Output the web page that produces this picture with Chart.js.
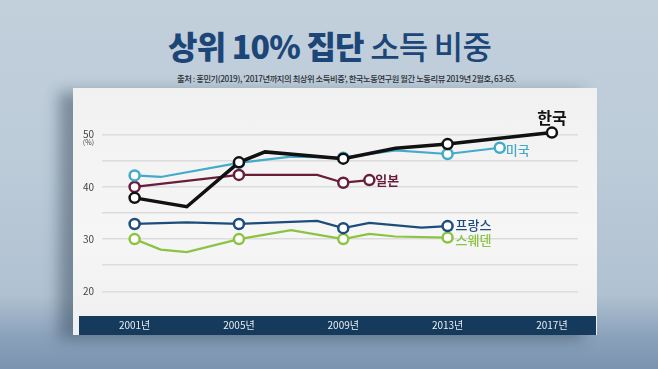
<!DOCTYPE html>
<html>
<head>
<meta charset="utf-8">
<script src="https://cdn.jsdelivr.net/npm/chart.js@4.4.0/dist/chart.umd.min.js"></script>
<style>
  html, body { margin: 0; padding: 0; }
  body {
    width: 658px; height: 369px; position: relative; overflow: hidden;
    background: linear-gradient(180deg, #c2d0dc 0%, #bccbd8 45%, #b0c1d1 80%, #8ba2bb 91%, #7a93b0 100%);
    font-family: "Noto Sans CJK KR", "Noto Sans", sans-serif;
  }
  #card {
    position: absolute; left: 73px; top: 88px; width: 524px; height: 247px;
    background: linear-gradient(180deg, #f1f1f1 0%, #f6f6f6 60%, #efefef 100%);
    box-shadow: -14px 4px 14px rgba(40, 60, 80, 0.45);
  }
  #bar {
    position: absolute; left: 79px; top: 316px; width: 517px; height: 19px;
    background: #163a5c;
  }
  #title {
    position: absolute; left: 168px; top: 25px; white-space: nowrap;
    color: #1c4677; font-size: 32px; letter-spacing: -0.8px; line-height: 40px;
  }
  #title b { font-weight: 900; }
  #title span { font-weight: 500; }
  #source {
    position: absolute; left: 177px; top: 72px; white-space: nowrap;
    color: #2a2f36; font-size: 8.3px; font-weight: 500; letter-spacing: -0.45px; line-height: 12px;
  }
  #chart { position: absolute; left: 0; top: 0; }
</style>
</head>
<body>
<div id="card"></div>
<div id="bar"></div>
<div id="title"><b>상위 10% 집단</b> <span>소득 비중</span></div>
<div id="source">출처 : 홍민기(2019), '2017년까지의 최상위 소득비중', 한국노동연구원 월간 노동리뷰 2019년 2월호, 63-65.</div>
<canvas id="chart" width="658" height="369"></canvas>
<script>
// x축에 표시되는 연도
const tickYears = [2001, 2005, 2009, 2013, 2017];

// 나라별 연도 / 값 (%)
const koreaYears = [2001, 2003, 2005, 2006, 2009, 2011, 2013, 2017];
const koreaValues = [37.9, 36.2, 44.7, 46.7, 45.4, 47.4, 48.2, 50.4];

const usaYears = [2001, 2002, 2005, 2007, 2009, 2011, 2013, 2015];
const usaValues = [42.2, 41.9, 44.6, 45.8, 45.6, 47.0, 46.3, 47.5];

const japanYears = [2001, 2005, 2008, 2009, 2010];
const japanValues = [40.0, 42.3, 42.3, 40.8, 41.3];

const franceYears = [2001, 2003, 2005, 2008, 2009, 2010, 2012, 2013];
const franceValues = [32.9, 33.2, 32.9, 33.5, 32.1, 33.1, 32.2, 32.5];

const swedenYears = [2001, 2002, 2003, 2005, 2007, 2009, 2010, 2011, 2013];
const swedenValues = [30.0, 28.0, 27.5, 30.0, 31.7, 30.0, 31.0, 30.5, 30.3];

function toPoints(years, values) {
  return years.map((y, i) => ({ x: y, y: values[i] }));
}

function markerRadius(ctx) {
  const n = ctx.dataset.data.length;
  if (ctx.dataIndex === n - 1) return 5;
  return tickYears.includes(ctx.raw.x) ? 5 : 0;
}

function makeSeries(label, years, values, color, width, endLabel) {
  return {
    label,
    data: toPoints(years, values),
    borderColor: color,
    borderWidth: width,
    pointRadius: markerRadius,
    pointBackgroundColor: '#ffffff',
    pointBorderColor: color,
    pointBorderWidth: 2.5,
    tension: 0,
    endLabel
  };
}

// 선 끝 나라 이름
const endLabels = {
  id: 'endLabels',
  afterDatasetsDraw(chart) {
    const ctx = chart.ctx;
    chart.data.datasets.forEach((ds, i) => {
      const meta = chart.getDatasetMeta(i);
      const pt = meta.data[meta.data.length - 1];
      const o = ds.endLabel;
      ctx.save();
      ctx.font = o.font;
      ctx.fillStyle = ds.borderColor;
      ctx.textAlign = o.align;
      ctx.textBaseline = 'middle';
      ctx.fillText(ds.label, pt.x + o.dx, pt.y + o.dy);
      ctx.restore();
    });
    // (%) 단위
    const y = chart.scales.y;
    ctx.save();
    ctx.font = '7px "Noto Sans CJK KR"';
    ctx.fillStyle = '#444';
    ctx.textAlign = 'right';
    ctx.textBaseline = 'middle';
    ctx.fillText('(%)', y.right - 8, y.getPixelForValue(50) + 8);
    ctx.restore();
  }
};

new Chart(document.getElementById('chart'), {
  type: 'line',
  data: {
    datasets: [
      makeSeries('한국', koreaYears, koreaValues, '#111111', 3.5,
        { dx: 0, dy: -15, align: 'center', font: 'bold 16px "Noto Sans CJK KR"' }),
      makeSeries('미국', usaYears, usaValues, '#43abc9', 2.2,
        { dx: 6, dy: 2, align: 'left', font: '500 13px "Noto Sans CJK KR"' }),
      makeSeries('일본', japanYears, japanValues, '#6a1d3a', 2.2,
        { dx: 6, dy: 0, align: 'left', font: 'bold 13px "Noto Sans CJK KR"' }),
      makeSeries('프랑스', franceYears, franceValues, '#1d4d7b', 2.2,
        { dx: 8, dy: -1, align: 'left', font: '500 13px "Noto Sans CJK KR"' }),
      makeSeries('스웨덴', swedenYears, swedenValues, '#8cc342', 2.2,
        { dx: 8, dy: 3, align: 'left', font: '500 13px "Noto Sans CJK KR"' })
    ]
  },
  options: {
    responsive: false,
    animation: false,
    layout: { padding: { left: 70, right: 80, top: 119, bottom: 32 } },
    plugins: { legend: { display: false }, tooltip: { enabled: false } },
    scales: {
      x: {
        type: 'linear',
        min: 1999.75,
        max: 2018,
        afterBuildTicks(scale) { scale.ticks = tickYears.map(v => ({ value: v })); },
        afterFit(scale) { scale.height = 30; },
        grid: { display: false, drawTicks: false },
        border: { display: false },
        ticks: {
          padding: 12,
          color: '#e8eef4',
          font: { family: '"Noto Sans CJK KR"', size: 10 },
          callback: v => v + '년',
          maxRotation: 0
        }
      },
      y: {
        min: 17,
        max: 53,
        afterBuildTicks(scale) { scale.ticks = [20, 25, 30, 35, 40, 45, 50].map(v => ({ value: v })); },
        afterFit(scale) { scale.width = 32; },
        grid: { color: '#dcdcdc', lineWidth: 1.5, drawTicks: false },
        border: { display: false },
        ticks: {
          padding: 8,
          color: '#444',
          font: { family: '"Noto Sans CJK KR"', size: 10 },
          callback: v => (v % 10 === 0 ? v : '')
        }
      }
    }
  },
  plugins: [endLabels]
});
</script>
</body>
</html>
